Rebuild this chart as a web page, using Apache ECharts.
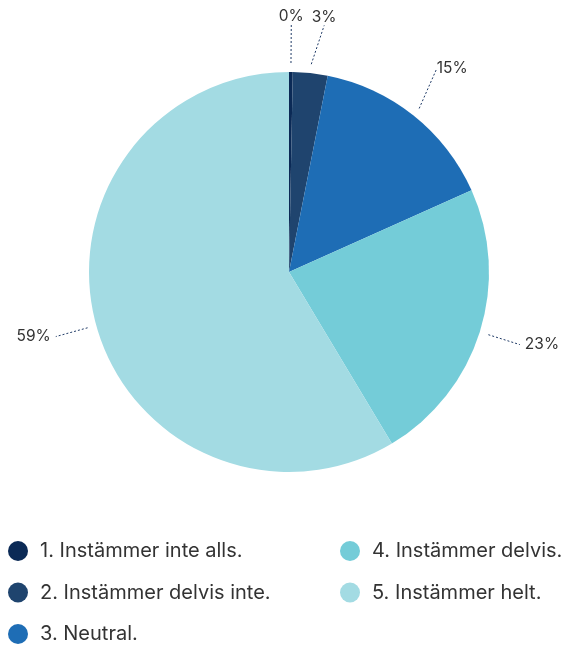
<!DOCTYPE html>
<html><head><meta charset="utf-8">
<script src="https://cdn.jsdelivr.net/npm/echarts@6/dist/echarts.min.js"></script>
<style>html,body{margin:0;padding:0;background:#fff}#c{width:561px;height:647px}</style>
</head><body><div id="c"></div>
<script>
const categories = ["1. Instämmer inte alls.", "2. Instämmer delvis inte.", "3. Neutral.", "4. Instämmer delvis.", "5. Instämmer helt."];
const values = [0.3, 2.8, 15.2, 23.1, 58.6];
const colors = ["#0b2a56", "#1f446e", "#1e6db5", "#74ccd8", "#a3dbe3"];

const chart = echarts.init(document.getElementById('c'), null, {renderer: 'canvas'});
const data = categories.map((n, i) => ({name: n, value: values[i], itemStyle: {color: colors[i]}}));
const font = 'Inter, "Noto Sans", sans-serif';

const legendText = {fontFamily: font, fontSize: 20, color: '#333', padding: [0, 0, 0, 7]};
chart.setOption({
  animation: false,
  legend: [
    {data: categories.slice(0, 3), orient: 'vertical', left: 3, top: 536, height: 130, itemWidth: 20, itemHeight: 20, itemGap: 21.5, icon: 'circle',
     textStyle: legendText, selectedMode: false},
    {data: categories.slice(3), orient: 'vertical', left: 335, top: 536, height: 130, itemWidth: 20, itemHeight: 20, itemGap: 21.5, icon: 'circle',
     textStyle: legendText, selectedMode: false}
  ],
  series: [
    {type: 'pie', center: [289, 272], radius: [0, 200], startAngle: 90, clockwise: true, data: data,
     label: {show: false}, labelLine: {show: false}, silent: true},
    {type: 'pie', center: [289, 272], radius: [0, 209], startAngle: 90, clockwise: true,
     data: categories.map((n, i) => ({name: n, value: values[i], itemStyle: {color: 'rgba(0,0,0,0)'}})),
     silent: true, avoidLabelOverlap: false,
     label: {show: true, position: 'outside', formatter: p => Math.round(p.percent) + '%',
       fontFamily: font, fontSize: 15.5, color: '#333', distanceToLabelLine: 5},
     labelLine: {show: true, length: 33, length2: 0, lineStyle: {color: '#1f3a66', width: 1, type: [2, 2]}},
     labelLayout: function (p) {
       const pts = p.labelLinePoints;
       if (!pts) return {};
       const a = pts[0], b = pts[pts.length - 1];
       const dx = b[0] - a[0], dy = b[1] - a[1];
       if (Math.abs(dy) > Math.abs(dx) * 0.8 && dy < 0) {
         const dxc = b[0] - 289;
         return {x: dxc < 8 ? b[0] : b[0] - 3, y: b[1] - 6, align: dxc < 8 ? 'center' : 'left', verticalAlign: 'bottom'};
       }
       return {};
     }
    }
  ]
});
</script></body></html>
